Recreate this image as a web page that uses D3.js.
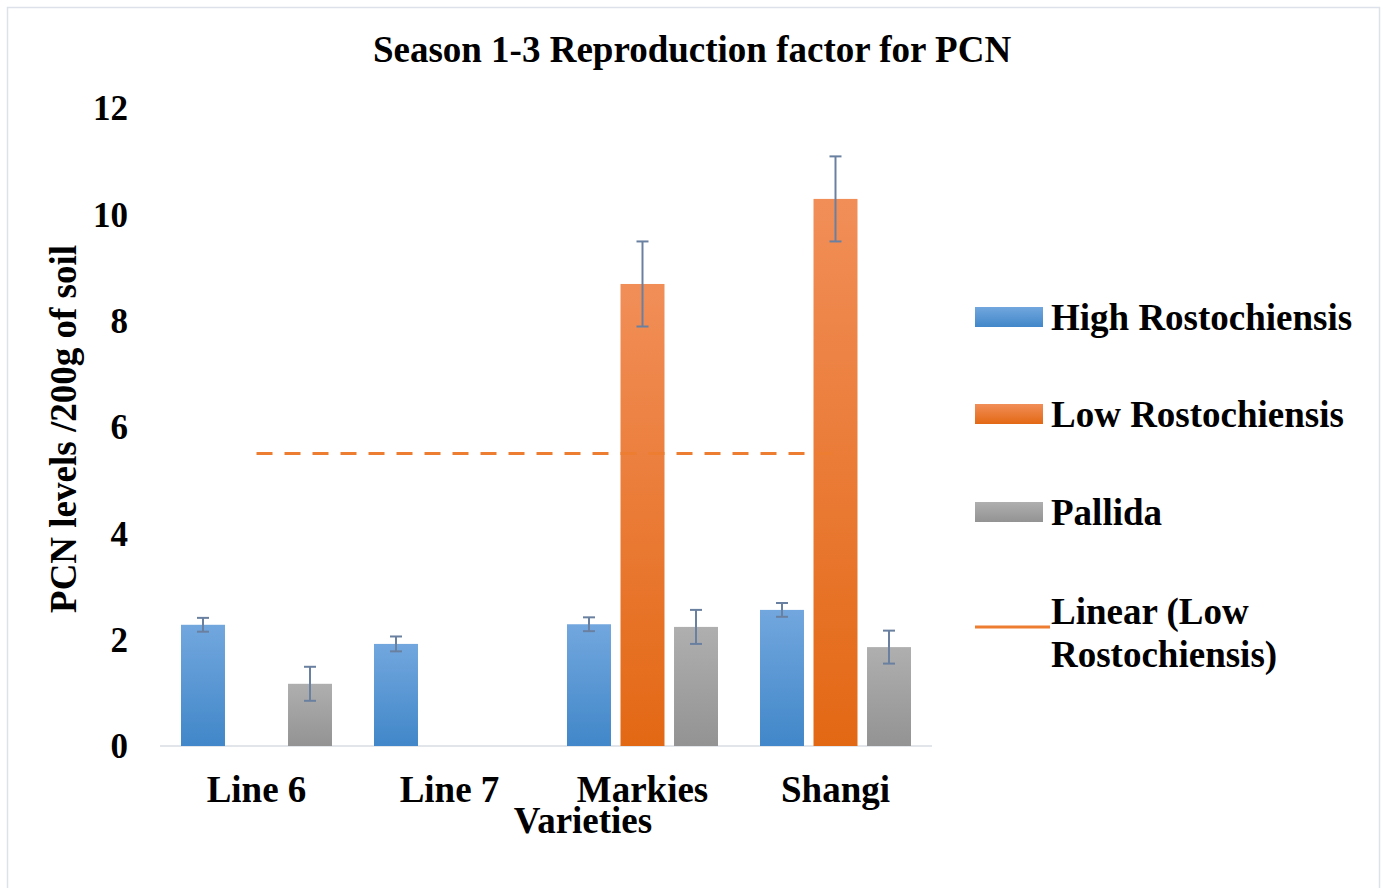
<!DOCTYPE html>
<html>
<head>
<meta charset="utf-8">
<script src="https://cdn.jsdelivr.net/npm/d3@7"></script>
<style>
  body { margin: 0; background: #fff; }
  text { font-family: "Liberation Serif", "Times New Roman", serif; font-weight: bold; fill: #000; }
</style>
</head>
<body>
<svg id="chart" width="1385" height="888"></svg>
<script>
// data
const varieties = ["Line 6", "Line 7", "Markies", "Shangi"];
const seriesNames = ["High Rostochiensis", "Low Rostochiensis", "Pallida"];
const highRosto = [2.28, 1.92, 2.29, 2.56];
const lowRosto = [0, 0, 8.69, 10.29];
const pallida = [1.17, 0, 2.24, 1.86];
const highErr = [0.13, 0.14, 0.13, 0.13];
const lowErr = [0, 0, 0.8, 0.8];
const pallidaErr = [0.32, 0, 0.32, 0.31];
const trendLine = [5.5, 5.5]; // Linear (Low Rostochiensis), first to last category
const yTicks = [0, 2, 4, 6, 8, 10, 12];

const values = [highRosto, lowRosto, pallida];
const errors = [highErr, lowErr, pallidaErr];
const colors = [
  { top: "#72a7de", bottom: "#4187c9" },
  { top: "#f18e58", bottom: "#e36814" },
  { top: "#afafaf", bottom: "#939393" }
];

const svg = d3.select("#chart");

// outer frame
svg.append("rect")
  .attr("x", 7.5).attr("y", 7.5)
  .attr("width", 1372).attr("height", 890)
  .attr("fill", "#fff")
  .attr("stroke", "#dde2ea")
  .attr("stroke-width", 1.5);

/* GRADIENTS */
const defs = svg.append("defs");
colors.forEach((c, i) => {
  const g = defs.append("linearGradient")
    .attr("id", "grad" + i)
    .attr("x1", 0).attr("y1", 0).attr("x2", 0).attr("y2", 1);
  g.append("stop").attr("offset", "0%").attr("stop-color", c.top);
  g.append("stop").attr("offset", "100%").attr("stop-color", c.bottom);
});

const plotLeft = 160, plotRight = 932, plotTop = 108, plotBottom = 746;

const y = d3.scaleLinear().domain([0, 12]).range([plotBottom, plotTop]);
const x0 = d3.scaleBand().domain(varieties).range([plotLeft, plotRight]);
const x1 = d3.scaleBand().domain(d3.range(3))
  .range([21, x0.bandwidth() - 21])
  .paddingInner(0.178);

// y tick labels (no axis line, no gridlines)
svg.append("g").selectAll("text")
  .data(yTicks)
  .join("text")
  .attr("x", 128)
  .attr("y", d => y(d))
  .attr("dy", "0.35em")
  .attr("text-anchor", "end")
  .style("font-size", "35px")
  .text(d => d);

// baseline
svg.append("line")
  .attr("x1", plotLeft).attr("x2", plotRight)
  .attr("y1", y(0)).attr("y2", y(0))
  .attr("stroke", "#d9dde3")
  .attr("stroke-width", 1.5);

// bars
const groups = svg.append("g").selectAll("g")
  .data(varieties)
  .join("g")
  .attr("transform", d => `translate(${x0(d)},0)`);

groups.selectAll("rect")
  .data((d, i) => values.map((s, k) => ({ k: k, v: s[i] })))
  .join("rect")
  .attr("x", d => x1(d.k))
  .attr("width", x1.bandwidth())
  .attr("y", d => y(d.v))
  .attr("height", d => y(0) - y(d.v))
  .attr("fill", d => `url(#grad${d.k})`);

// error bars
const errG = groups.selectAll("g.err")
  .data((d, i) => values.map((s, k) => ({ k: k, v: s[i], e: errors[k][i] })).filter(d => d.v > 0))
  .join("g")
  .attr("class", "err")
  .attr("stroke", "#6a80a0")
  .attr("stroke-width", 2);

errG.append("line")
  .attr("x1", d => x1(d.k) + x1.bandwidth() / 2)
  .attr("x2", d => x1(d.k) + x1.bandwidth() / 2)
  .attr("y1", d => y(d.v + d.e))
  .attr("y2", d => y(d.v - d.e));
[1, -1].forEach(sign => {
  errG.append("line")
    .attr("x1", d => x1(d.k) + x1.bandwidth() / 2 - 6)
    .attr("x2", d => x1(d.k) + x1.bandwidth() / 2 + 6)
    .attr("y1", d => y(d.v + sign * d.e))
    .attr("y2", d => y(d.v + sign * d.e));
});

// trend line
const first = varieties[0], last = varieties[varieties.length - 1];
svg.append("line")
  .attr("x1", x0(first) + x0.bandwidth() / 2)
  .attr("x2", x0(last) + x0.bandwidth() / 2)
  .attr("y1", y(trendLine[0]))
  .attr("y2", y(trendLine[1]))
  .attr("stroke", "#ed7d31")
  .attr("stroke-width", 3)
  .attr("stroke-dasharray", "16,12");

// x labels
svg.append("g").selectAll("text")
  .data(varieties)
  .join("text")
  .attr("x", d => x0(d) + x0.bandwidth() / 2)
  .attr("y", 802)
  .attr("text-anchor", "middle")
  .style("font-size", "37px")
  .text(d => d);

/* TITLES */
svg.append("text")
  .attr("x", 692).attr("y", 62)
  .attr("text-anchor", "middle")
  .style("font-size", "37px")
  .text("Season 1-3 Reproduction factor for PCN");

svg.append("text")
  .attr("x", 583).attr("y", 833)
  .attr("text-anchor", "middle")
  .style("font-size", "37px")
  .text("Varieties");

svg.append("text")
  .attr("transform", "translate(76,429) rotate(-90)")
  .attr("text-anchor", "middle")
  .style("font-size", "37px")
  .text("PCN levels /200g of soil");

/* LEGEND */
const legendY = [317, 414, 512];
const legend = svg.append("g");
seriesNames.forEach((name, i) => {
  legend.append("rect")
    .attr("x", 975).attr("y", legendY[i] - 10)
    .attr("width", 68).attr("height", 20)
    .attr("fill", `url(#grad${i})`);
  legend.append("text")
    .attr("x", 1051).attr("y", legendY[i])
    .attr("dy", "0.35em")
    .style("font-size", "37px")
    .text(name);
});
legend.append("line")
  .attr("x1", 975).attr("x2", 1050)
  .attr("y1", 627).attr("y2", 627)
  .attr("stroke", "#ed7d31")
  .attr("stroke-width", 3);
legend.append("text")
  .attr("x", 1051).attr("y", 624)
  .style("font-size", "37px")
  .text("Linear (Low");
legend.append("text")
  .attr("x", 1051).attr("y", 667)
  .style("font-size", "37px")
  .text("Rostochiensis)");
</script>
</body>
</html>
